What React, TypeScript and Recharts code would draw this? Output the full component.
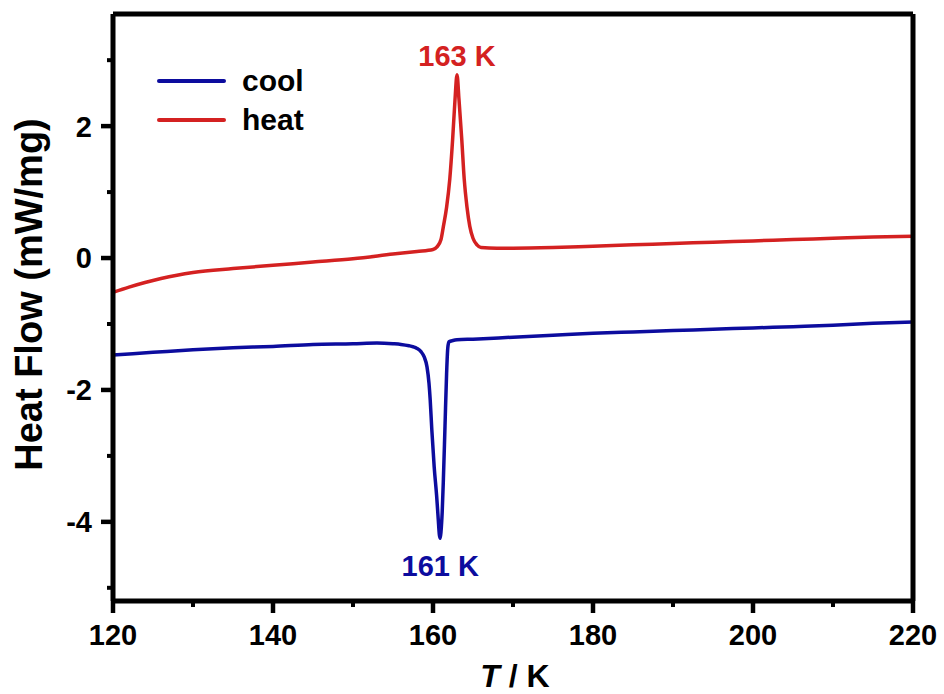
import React from "react";
import { LineChart, Line, XAxis, YAxis, ReferenceDot, Legend, Label } from "recharts";

const coolT = [120, 125, 130, 135, 140, 145, 150, 153, 155, 156, 157, 157.5, 158, 158.5, 158.9, 159.25, 159.5, 159.65, 159.85, 160.15, 160.45, 160.65, 160.8, 160.9, 161.0, 161.15, 161.3, 161.5, 161.7, 161.85, 162.0, 162.5, 163, 165, 170, 175, 180, 185, 190, 195, 200, 205, 210, 215, 220];
const coolV = [-1.47, -1.43, -1.39, -1.36, -1.34, -1.31, -1.30, -1.29, -1.30, -1.31, -1.33, -1.345, -1.37, -1.42, -1.5, -1.65, -1.9, -2.15, -2.6, -3.17, -3.6, -3.95, -4.2, -4.25, -4.15, -3.85, -3.35, -2.55, -1.75, -1.36, -1.27, -1.25, -1.24, -1.23, -1.2, -1.17, -1.14, -1.12, -1.1, -1.08, -1.06, -1.04, -1.02, -0.99, -0.97];

const heatT = [120, 122, 124, 126, 128, 130, 135, 140, 145, 150, 155, 158, 160, 160.5, 161, 161.3, 161.7, 162.1, 162.45, 162.75, 163, 163.25, 163.6, 163.9, 164.25, 164.6, 165, 165.5, 166, 168, 170, 175, 180, 185, 190, 195, 200, 205, 210, 215, 220];
const heatV = [-0.52, -0.44, -0.37, -0.31, -0.26, -0.22, -0.16, -0.11, -0.06, -0.01, 0.06, 0.1, 0.13, 0.17, 0.28, 0.48, 0.77, 1.2, 1.79, 2.4, 2.78, 2.4, 1.79, 1.2, 0.77, 0.48, 0.3, 0.2, 0.16, 0.15, 0.15, 0.16, 0.18, 0.2, 0.22, 0.24, 0.26, 0.28, 0.3, 0.32, 0.33];

const xTicks = [120, 130, 140, 150, 160, 170, 180, 190, 200, 210, 220];
const yTicks = [-5, -4, -3, -2, -1, 0, 1, 2, 3];
const xDomain = [120, 220];
const yDomain = [-5.2, 3.7];

const seriesNames = ["cool", "heat"];
const peakLabels = ["161 K", "163 K"];

const BLUE = "#0c0c9e";
const RED = "#d42121";
const FONT = "'Liberation Sans', Arial, Helvetica, sans-serif";
const AXIS_W = 5;

const coolData = coolT.map((t, i) => ({ t, v: coolV[i] }));
const heatData = heatT.map((t, i) => ({ t, v: heatV[i] }));

const coolMinIdx = coolV.indexOf(Math.min(...coolV));
const heatMaxIdx = heatV.indexOf(Math.max(...heatV));

const XTick = (props: any) => {
  const { x, y, payload } = props;
  const v = payload.value;
  const major = v % 20 === 0;
  return (
    <g>
      <line x1={x} x2={x} y1={y} y2={y + (major ? 12 : 6)} stroke="#000" strokeWidth={major ? 4.5 : 4} />
      {major && (
        <text x={x} y={y + 44} textAnchor="middle" fontFamily={FONT} fontWeight="bold" fontSize={29} fill="#000">
          {v}
        </text>
      )}
    </g>
  );
};

const YTick = (props: any) => {
  const { x, y, payload } = props;
  const v = payload.value;
  const major = v % 2 === 0;
  return (
    <g>
      <line x1={x - (major ? 12 : 6)} x2={x} y1={y} y2={y} stroke="#000" strokeWidth={major ? 4.5 : 4} />
      {major && (
        <text x={x - 21} y={y} dy="0.36em" textAnchor="end" fontFamily={FONT} fontWeight="bold" fontSize={29} fill="#000">
          {v}
        </text>
      )}
    </g>
  );
};

const LegendContent = (props: any) => {
  const { payload } = props;
  return (
    <div style={{ fontFamily: FONT, fontWeight: "bold", fontSize: 30 }}>
      {(payload || []).map((p: any) => (
        <div key={p.value} style={{ display: "flex", alignItems: "center", height: 39, lineHeight: "39px" }}>
          <span style={{ display: "inline-block", width: 69, height: 4, borderRadius: 2, background: p.color, marginRight: 16 }} />
          <span style={{ color: "#000" }}>{p.value}</span>
        </div>
      ))}
    </div>
  );
};

export default function App() {
  return (
    <div style={{ position: "absolute", left: 0, top: 0, width: 944, height: 694, background: "#fff" }}>
      <LineChart width={944} height={694} margin={{ top: 13, right: 30, bottom: 0, left: 0 }}>
        <XAxis
          dataKey="t"
          type="number"
          domain={xDomain}
          ticks={xTicks}
          allowDataOverflow
          height={93}
          tickSize={0}
          tickMargin={0}
          tickLine={false}
          axisLine={{ stroke: "#000", strokeWidth: AXIS_W }}
          stroke="#000"
          strokeWidth={AXIS_W}
          tick={<XTick />}
          interval={0}
        >
          <Label
            content={(p: any) => {
              const vb = p.viewBox;
              return (
                <text x={vb.x + vb.width / 2 + 2} y={vb.y + 86} textAnchor="middle" fontFamily={FONT} fontWeight="bold" fontSize={32} fill="#000">
                  <tspan fontStyle="italic">T</tspan>
                  <tspan> / K</tspan>
                </text>
              );
            }}
          />
        </XAxis>
        <XAxis
          xAxisId="top"
          orientation="top"
          dataKey="t"
          type="number"
          domain={xDomain}
          allowDataOverflow
          height={1}
          tick={false}
          tickLine={false}
          axisLine={{ stroke: "#000", strokeWidth: AXIS_W }}
          stroke="#000"
          strokeWidth={AXIS_W}
        />
        <YAxis
          type="number"
          domain={yDomain}
          ticks={yTicks}
          allowDataOverflow
          width={113}
          tickSize={0}
          tickMargin={0}
          tickLine={false}
          axisLine={{ stroke: "#000", strokeWidth: AXIS_W }}
          stroke="#000"
          strokeWidth={AXIS_W}
          tick={<YTick />}
          interval={0}
        >
          <Label
            content={(p: any) => {
              const vb = p.viewBox;
              const cx = vb.x + 42;
              const cy = vb.y + vb.height / 2 - 13;
              return (
                <text x={cx} y={cy} transform={`rotate(-90, ${cx}, ${cy})`} textAnchor="middle" fontFamily={FONT} fontWeight="bold" fontSize={38} fill="#000">
                  Heat Flow (mW/mg)
                </text>
              );
            }}
          />
        </YAxis>
        <YAxis
          yAxisId="right"
          orientation="right"
          type="number"
          domain={yDomain}
          allowDataOverflow
          width={1}
          tick={false}
          tickLine={false}
          axisLine={{ stroke: "#000", strokeWidth: AXIS_W }}
          stroke="#000"
          strokeWidth={AXIS_W}
        />
        <Legend
          layout="vertical"
          align="center"
          verticalAlign="middle"
          wrapperStyle={{ position: "absolute", left: 157, top: 61, width: 220, height: 80 }}
          content={<LegendContent />}
        />
        <Line data={coolData} dataKey="v" name={seriesNames[0]} type="monotone" stroke={BLUE} strokeWidth={3.5} dot={false} isAnimationActive={false} />
        <Line data={heatData} dataKey="v" name={seriesNames[1]} type="monotone" stroke={RED} strokeWidth={3.5} dot={false} isAnimationActive={false} />
        <ReferenceDot
          x={heatT[heatMaxIdx]}
          y={heatV[heatMaxIdx]}
          r={1}
          fill="none"
          stroke="none"
          label={{
            content: (p: any) => {
              const vb = p.viewBox;
              return (
                <text x={vb.x + vb.width / 2} y={vb.y - 8} textAnchor="middle" fontFamily={FONT} fontWeight="bold" fontSize={29} fill={RED}>
                  {peakLabels[1]}
                </text>
              );
            },
          }}
        />
        <ReferenceDot
          x={coolT[coolMinIdx]}
          y={coolV[coolMinIdx]}
          r={1}
          fill="none"
          stroke="none"
          label={{
            content: (p: any) => {
              const vb = p.viewBox;
              return (
                <text x={vb.x + vb.width / 2} y={vb.y + 39} textAnchor="middle" fontFamily={FONT} fontWeight="bold" fontSize={29} fill={BLUE}>
                  {peakLabels[0]}
                </text>
              );
            },
          }}
        />
      </LineChart>
    </div>
  );
}
